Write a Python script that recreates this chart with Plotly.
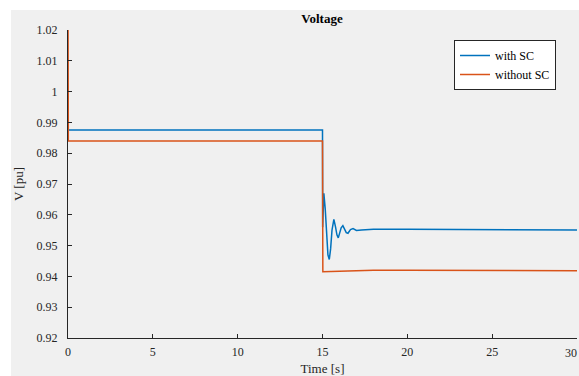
import plotly.graph_objects as go

# Data
t_with = [0, 15.0, 15.01, 15.08, 15.16, 15.24, 15.32, 15.4, 15.48, 15.56, 15.67, 15.77,
          15.85, 15.93, 16.03, 16.1, 16.2, 16.3, 16.4, 16.5, 16.65, 16.8, 17.0, 17.3,
          18.0, 20.0, 25.0, 30.0]
v_with = [0.9875, 0.9875, 0.956, 0.967, 0.962, 0.952, 0.947, 0.9455, 0.949, 0.955, 0.9585, 0.956,
          0.9535, 0.9525, 0.9545, 0.9558, 0.9565, 0.9555, 0.9542, 0.954, 0.9552, 0.9555, 0.9549, 0.9551,
          0.9553, 0.9553, 0.9551, 0.9551]

t_without = [0, 0.02, 15.0, 15.02, 16.0, 18.0, 20.0, 25.0, 30.0]
v_without = [1.03, 0.984, 0.984, 0.9415, 0.9417, 0.9420, 0.9420, 0.9418, 0.9418]

y_ticks = [0.92, 0.93, 0.94, 0.95, 0.96, 0.97, 0.98, 0.99, 1.00, 1.01, 1.02]
y_labels = ["0.92", "0.93", "0.94", "0.95", "0.96", "0.97", "0.98", "0.99", "1", "1.01", "1.02"]
x_ticks = [0, 5, 10, 15, 20, 25, 30]
x_labels = ["0", "5", "10", "15", "20", "25", "30"]

FONT = "Liberation Serif, Times New Roman, serif"
AX = "#262626"

fig = go.Figure()
fig.add_trace(go.Scatter(x=t_with, y=v_with, mode="lines", name="with SC",
                         line=dict(color="#0072BD", width=1.5)))
fig.add_trace(go.Scatter(x=t_without, y=v_without, mode="lines", name="without SC",
                         line=dict(color="#D95319", width=1.5)))

W, H = 579, 376
L, R, T, B = 68, 2, 30, 38
pw, ph = W - L - R, H - T - B

fig.add_shape(type="rect", xref="paper", yref="paper", layer="below",
              x0=(11 - L) / pw, x1=(W - L) / pw + 0.01,
              y0=-(B + 2) / ph, y1=(H - B - 10) / ph,
              fillcolor="#f0f0f0", line=dict(width=0))

# last x tick label ("30") sits at the page edge; keep it fully inside
fig.add_annotation(x=x_ticks[-1], y=0, xref="x", yref="paper", text=x_labels[-1],
                   showarrow=False, xanchor="right", yanchor="top", yshift=-6, xshift=2,
                   font=dict(size=12, color=AX, family=FONT))

fig.update_layout(
    width=W, height=H,
    margin=dict(l=L, r=R, t=T, b=B),
    paper_bgcolor="white", plot_bgcolor="white",
    font=dict(family=FONT, size=12, color=AX),
    title=dict(text="<b>Voltage</b>", x=322 / W, xanchor="center",
               y=1 - 18 / H, yanchor="middle", font=dict(size=13, color="#000000")),
    legend=dict(x=(454 - L) / pw, y=(H - B - 40) / ph, xanchor="left", yanchor="top",
                bgcolor="white", bordercolor="#262626", borderwidth=1,
                font=dict(size=12, color="#000000"), tracegroupgap=0),
    showlegend=True,
)
fig.update_xaxes(range=[0, 30], tickvals=x_ticks[:-1], ticktext=x_labels[:-1],
                 ticks="inside", ticklen=4, ticklabelstandoff=3,
                 tickcolor=AX, showline=True, linecolor=AX, linewidth=1,
                 showgrid=False, zeroline=False,
                 title=dict(text="Time [s]", font=dict(size=13), standoff=6))
fig.update_yaxes(range=[0.92, 1.02], tickvals=y_ticks, ticktext=y_labels, ticks="inside",
                 ticklen=4, ticklabelstandoff=7, tickcolor=AX, showline=True, linecolor=AX,
                 linewidth=1, showgrid=False, zeroline=False,
                 title=dict(text="V [pu]", font=dict(size=13), standoff=10))

fig.write_html("out.html")
